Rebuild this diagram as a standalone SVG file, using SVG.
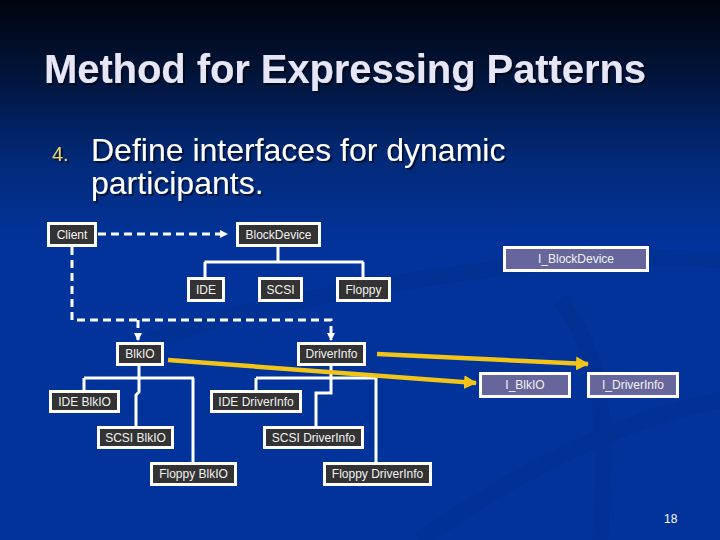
<svg xmlns="http://www.w3.org/2000/svg" width="720" height="540" viewBox="0 0 720 540">
<defs>
<linearGradient id="bg" x1="0" y1="0" x2="0" y2="1">
<stop offset="0" stop-color="#01040f"/>
<stop offset="0.12" stop-color="#011233"/>
<stop offset="0.3" stop-color="#022a7a"/>
<stop offset="0.45" stop-color="#01339a"/>
<stop offset="1" stop-color="#01339b"/>
</linearGradient>
<filter id="sh" x="-5%" y="-20%" width="110%" height="140%">
<feDropShadow dx="2" dy="2" stdDeviation="0.6" flood-color="#000000" flood-opacity="0.55"/>
</filter>
<marker id="ya" markerUnits="userSpaceOnUse" markerWidth="14" markerHeight="14" refX="12" refY="7" orient="auto">
<path d="M0,0 L13,7 L0,14 Z" fill="#f2c418"/>
</marker>
<marker id="wa" markerUnits="userSpaceOnUse" markerWidth="8" markerHeight="8" refX="7" refY="4" orient="auto">
<path d="M0,0 L8,4 L0,8 Z" fill="#ffffff"/>
</marker>
<style>
.n rect{fill:#333333;stroke:#ffffff;stroke-width:3}
.i rect{fill:#66669c;stroke:#ffffff;stroke-width:3}
.n text,.i text{font-family:"Liberation Sans",Arial,sans-serif;font-size:12px;fill:#f2f2f2;text-anchor:middle}
.t{fill:none;stroke:#ffffff;stroke-width:3}
.d{fill:none;stroke:#ffffff;stroke-width:3;stroke-dasharray:8 5}
.y{fill:none;stroke:#f2c418;stroke-width:4.5}
</style>
</defs>
<rect width="720" height="540" fill="url(#bg)"/>
<g fill="none" stroke="#012d88" stroke-width="16" opacity="0.35">
<path d="M150,340 C300,290 560,250 720,260"/>
<path d="M420,540 C520,470 620,420 720,400"/>
<path d="M560,300 C600,350 610,420 600,540"/>
</g>
<g id="title" filter="url(#sh)">
<text x="44" y="83" font-family="Liberation Sans,Arial,sans-serif" font-size="40" font-weight="bold" fill="#e6e6f6" textLength="602">Method for Expressing Patterns</text>
</g>
<g id="body" font-family="Liberation Sans,Arial,sans-serif" filter="url(#sh)">
<text x="52" y="161" font-size="20" fill="#e8d46a">4.</text>
<text x="91" y="161" font-size="32" fill="#ffffff">Define interfaces for dynamic</text>
<text x="91" y="194" font-size="32" fill="#ffffff">participants.</text>
</g>
<g id="connectors">
<path class="t" d="M278,246 V262 M204.5,262 H363.5 M205,262 V278 M363,262 V278"/>
<path class="t" d="M139,365 V378 M84,378 H194 M84,378 V391 M193,378 V463 M139,378 V392 L136,395 V427"/>
<path class="t" d="M331,365 V378 M256,378 H377 M256,378 V391 M376,378 V463 M331,378 V393 H316 V427"/>
<path class="d" d="M98,234 H227" marker-end="url(#wa)"/>
<path class="d" d="M72,247 V320 H331 V340" marker-end="url(#wa)"/>
<path class="d" d="M138,320 V340" marker-end="url(#wa)"/>
<path class="y" d="M168,360 L476,383" marker-end="url(#ya)"/>
<path class="y" d="M377,354 L588,364" marker-end="url(#ya)"/>
</g>
<g id="Client" class="n"><rect x="48.5" y="223.5" width="47" height="22"/><text x="72" y="238.5">Client</text></g>
<g id="BlockDevice" class="n"><rect x="237.5" y="223.5" width="82" height="22"/><text x="278.5" y="238.5">BlockDevice</text></g>
<g id="I_BlockDevice" class="i"><rect x="504.5" y="247.5" width="143" height="23"/><text x="576" y="263">I_BlockDevice</text></g>
<g id="IDE" class="n"><rect x="188.5" y="278.5" width="35" height="22"/><text x="206" y="293.5">IDE</text></g>
<g id="SCSI" class="n"><rect x="259.5" y="278.5" width="42" height="22"/><text x="280.5" y="293.5">SCSI</text></g>
<g id="Floppy" class="n"><rect x="337.5" y="278.5" width="52" height="22"/><text x="363.5" y="293.5">Floppy</text></g>
<g id="BlkIO" class="n"><rect x="117.5" y="343.5" width="45" height="21"/><text x="140" y="358">BlkIO</text></g>
<g id="DriverInfo" class="n"><rect x="298.5" y="343.5" width="66" height="21"/><text x="331.5" y="358">DriverInfo</text></g>
<g id="I_BlkIO" class="i"><rect x="480.5" y="373.5" width="89" height="23"/><text x="525" y="389">I_BlkIO</text></g>
<g id="I_DriverInfo" class="i"><rect x="588.5" y="373.5" width="89" height="23"/><text x="633" y="389">I_DriverInfo</text></g>
<g id="IDE_BlkIO" class="n"><rect x="50.5" y="391.5" width="68" height="20"/><text x="84.5" y="405.5">IDE BlkIO</text></g>
<g id="IDE_DriverInfo" class="n"><rect x="211.5" y="391.5" width="89" height="20"/><text x="256" y="405.5">IDE DriverInfo</text></g>
<g id="SCSI_BlkIO" class="n"><rect x="98.5" y="427.5" width="74" height="20"/><text x="135.5" y="441.5">SCSI BlkIO</text></g>
<g id="SCSI_DriverInfo" class="n"><rect x="264.5" y="427.5" width="98" height="20"/><text x="313.5" y="441.5">SCSI DriverInfo</text></g>
<g id="Floppy_BlkIO" class="n"><rect x="151.5" y="463.5" width="84" height="21"/><text x="193.5" y="478">Floppy BlkIO</text></g>
<g id="Floppy_DriverInfo" class="n"><rect x="324.5" y="463.5" width="106" height="21"/><text x="377.5" y="478">Floppy DriverInfo</text></g>
<text x="664" y="523" font-family="Liberation Sans,Arial,sans-serif" font-size="12" fill="#ffffff">18</text>
</svg>
